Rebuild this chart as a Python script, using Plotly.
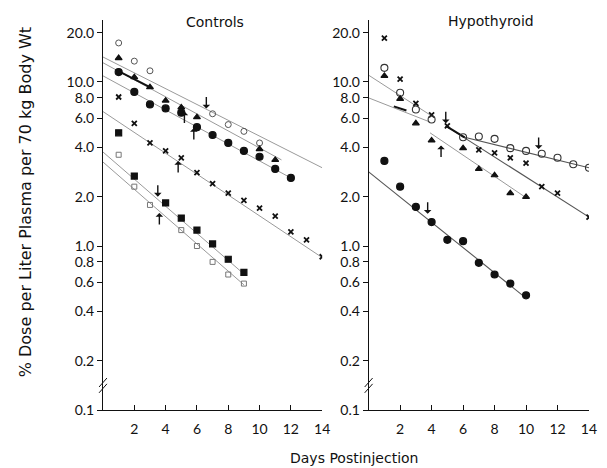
import math
import plotly.graph_objects as go

# ---------------- data ----------------
# Controls panel
c_oc_days = [1, 2, 3, 7, 8, 9, 10]
c_oc_vals = [17.3, 13.4, 11.7, 6.4, 5.5, 5.0, 4.25]
c_tri_days = [1, 2, 3, 4, 5, 6, 10, 11]
c_tri_vals = [14.0, 10.7, 9.3, 7.7, 7.0, 6.1, 3.9, 3.35]
c_fc_days = [1, 2, 3, 4, 5, 6, 7, 8, 9, 10, 11, 12]
c_fc_vals = [11.5, 8.7, 7.3, 6.9, 6.5, 5.3, 4.75, 4.25, 3.8, 3.5, 2.95, 2.6]
c_x_days = [1, 2, 3, 4, 5, 6, 7, 8, 9, 10, 11, 12, 13, 14]
c_x_vals = [8.1, 5.6, 4.25, 3.8, 3.45, 2.8, 2.4, 2.1, 1.9, 1.7, 1.52, 1.22, 1.09, 0.86]
c_fs_days = [1, 2, 4, 5, 6, 7, 8, 9]
c_fs_vals = [4.9, 2.67, 1.83, 1.48, 1.25, 1.03, 0.83, 0.69]
c_os_days = [1, 2, 3, 5, 6, 7, 8, 9]
c_os_vals = [3.6, 2.3, 1.78, 1.25, 1.0, 0.80, 0.67, 0.59]

# Controls regression lines (start/end)
c_fit_days = [[0, 14], [0, 11.4], [0, 12], [0, 14], [0, 9], [0, 9]]
c_fit_vals = [[14.2, 3.0], [13.1, 3.35], [10.9, 2.6], [6.6, 0.85], [3.74, 0.675], [3.25, 0.58]]
c_bold_days = [[0.8, 2.9]]
c_bold_vals = [[11.9, 9.4]]

# Hypothyroid panel
h_x_days = [1, 2, 3, 4, 5, 7, 8, 9, 10, 11, 12, 14]
h_x_vals = [18.5, 10.4, 7.4, 6.3, 5.4, 3.85, 3.7, 3.45, 3.2, 2.3, 2.1, 1.5]
h_oc_days = [1, 2, 3, 4, 6, 7, 8, 9, 10, 11, 12, 13, 14]
h_oc_vals = [12.2, 8.6, 6.8, 5.9, 4.6, 4.65, 4.5, 3.95, 3.8, 3.65, 3.45, 3.15, 3.0]
h_tri_days = [1, 2, 3, 4, 6, 7, 8, 9, 10]
h_tri_vals = [10.9, 7.9, 5.6, 4.4, 3.95, 2.95, 2.7, 2.1, 1.99]
h_fc_days = [1, 2, 3, 4, 5, 6, 7, 8, 9, 10]
h_fc_vals = [3.3, 2.3, 1.73, 1.40, 1.09, 1.07, 0.79, 0.67, 0.59, 0.50]

h_fit_days = [[0, 3.9], [0, 3.9], [4.9, 14], [5.9, 14], [3.9, 9.9], [0, 9.9]]
h_fit_vals = [[11.0, 6.3], [8.0, 5.7], [5.4, 1.5], [4.65, 3.0], [4.9, 2.0], [2.83, 0.49]]
h_fit_dark = [False, False, True, True, False, True]
h_bold_days = [[4.9, 6.1], [1.6, 2.4]]
h_bold_vals = [[5.4, 4.6], [7.1, 6.7]]

# arrows (tip position, direction)
c_arrow_days = [6.6, 5.2, 5.8, 4.8, 3.5, 3.6]
c_arrow_vals = [6.9, 6.6, 5.25, 3.3, 2.0, 1.59]
c_arrow_dirs = ["down", "up", "up", "up", "down", "up"]
h_arrow_days = [4.9, 4.6, 10.8, 3.75]
h_arrow_vals = [5.6, 4.1, 3.9, 1.57]
h_arrow_dirs = ["down", "up", "down", "down"]

# axes
y_tick_vals = [20, 10, 8, 6, 4, 2, 1, 0.8, 0.6, 0.4, 0.2, 0.1]
y_tick_text = ["20.0", "10.0", "8.0", "6.0", "4.0", "2.0", "1.0", "0.8", "0.6", "0.4", "0.2", "0.1"]
x_tick_vals = [2, 4, 6, 8, 10, 12, 14]
x_tick_text = ["2", "4", "6", "8", "10", "12", "14"]

FONT = "Lato"
TFONT = "DejaVu Sans"
BLACK = "#111111"
LINE_LIGHT = "#9a9a9a"
LINE_DARK = "#555555"

fig = go.Figure()


def add_line(xs, ys, xa, ya, color, width):
    fig.add_trace(go.Scatter(x=xs, y=ys, mode="lines", xaxis=xa, yaxis=ya,
                             line=dict(color=color, width=width),
                             hoverinfo="skip", showlegend=False))


def add_pts(xs, ys, xa, ya, symbol, size, color=BLACK, lw=1.2):
    fig.add_trace(go.Scatter(x=xs, y=ys, mode="markers", xaxis=xa, yaxis=ya,
                             marker=dict(symbol=symbol, size=size, color=color,
                                         line=dict(color=color, width=lw)),
                             showlegend=False))


# Controls lines
for d, v in zip(c_fit_days, c_fit_vals):
    add_line(d, v, "x", "y", LINE_LIGHT, 1)
for d, v in zip(c_bold_days, c_bold_vals):
    add_line(d, v, "x", "y", BLACK, 2)

# Hypothyroid lines
for d, v, dk in zip(h_fit_days, h_fit_vals, h_fit_dark):
    add_line(d, v, "x2", "y2", LINE_DARK if dk else LINE_LIGHT, 1.1 if dk else 1)
for d, v in zip(h_bold_days, h_bold_vals):
    add_line(d, v, "x2", "y2", BLACK, 2)

# Controls markers
add_pts(c_oc_days, c_oc_vals, "x", "y", "circle-open", 6, "#555555", 1)
add_pts(c_tri_days, c_tri_vals, "x", "y", "triangle-up", 6)
add_pts(c_fc_days, c_fc_vals, "x", "y", "circle", 7)
add_pts(c_x_days, c_x_vals, "x", "y", "x-thin-open", 5, BLACK, 1.8)
add_pts(c_fs_days, c_fs_vals, "x", "y", "square", 6)
add_pts(c_os_days, c_os_vals, "x", "y", "square-open", 5, "#777777", 1)

# Hypothyroid markers
add_pts(h_x_days, h_x_vals, "x2", "y2", "x-thin-open", 5, BLACK, 1.8)
add_pts(h_oc_days, h_oc_vals, "x2", "y2", "circle-open", 7, "#333333", 1.1)
add_pts(h_tri_days, h_tri_vals, "x2", "y2", "triangle-up", 6)
add_pts(h_fc_days, h_fc_vals, "x2", "y2", "circle", 7)

annotations = []
for days, vals, dirs, xr, yr in [(c_arrow_days, c_arrow_vals, c_arrow_dirs, "x", "y"),
                                 (h_arrow_days, h_arrow_vals, h_arrow_dirs, "x2", "y2")]:
    for d, v, dr in zip(days, vals, dirs):
        annotations.append(dict(x=d, y=math.log10(v), xref=xr, yref=yr, text="",
                                showarrow=True, arrowhead=1, arrowsize=0.9,
                                arrowwidth=1.4, arrowcolor=BLACK,
                                ax=0, ay=(-13 if dr == "down" else 13)))

# plot area (page coords): top = 20px, bottom = 410px, left = 103px, width = 494px
txt = dict(showarrow=False, xanchor="center", yanchor="middle")
annotations += [
    dict(text="Controls", x=0.51, y=(410 - 22) / 390, xref="x domain", yref="paper",
         font=dict(family=TFONT, size=14, color=BLACK), **txt),
    dict(text="Hypothyroid", x=0.555, y=(410 - 21) / 390, xref="x2 domain", yref="paper",
         font=dict(family=TFONT, size=14, color=BLACK), **txt),
    dict(text="Days Postinjection", x=(358 - 103) / 494, y=(410 - 458) / 390,
         xref="paper", yref="paper",
         font=dict(family=TFONT, size=14, color=BLACK), **txt),
    dict(text="% Dose per Liter Plasma per 70 kg Body Wt", x=(24 - 103) / 494,
         y=(410 - 202) / 390, xref="paper", yref="paper", textangle=-90,
         font=dict(family=TFONT, size=16, color=BLACK), **txt),
]

shapes = []
for xr, yr in [("x domain", "y domain"), ("x2 domain", "y2 domain")]:
    # axis break marks
    shapes.append(dict(type="line", xref=xr, yref=yr, x0=-0.018, x1=0.018,
                       y0=0.059, y1=0.082, line=dict(color=BLACK, width=1)))
    shapes.append(dict(type="line", xref=xr, yref=yr, x0=-0.018, x1=0.018,
                       y0=0.044, y1=0.067, line=dict(color=BLACK, width=1)))

yaxis_common = dict(type="log", range=[-1, 1.378], tickmode="array",
                    tickvals=y_tick_vals, ticktext=y_tick_text, ticks="outside",
                    ticklen=5, tickcolor=BLACK, showline=True, linecolor=BLACK,
                    linewidth=1, showgrid=False, zeroline=False,
                    tickfont=dict(family=FONT, size=14, color=BLACK))
xaxis_common = dict(range=[0, 14], tickmode="array", tickvals=x_tick_vals,
                    ticktext=x_tick_text, ticks="inside", ticklen=5, tickcolor=BLACK,
                    showline=True, linecolor=BLACK, linewidth=1, showgrid=False,
                    zeroline=False, ticklabeloverflow="allow", ticklabelstandoff=6,
                    tickfont=dict(family=FONT, size=14, color=BLACK))

# the page body adds an 8px offset, so the figure is sized/margined to compensate
fig.update_layout(
    width=599, height=460,
    margin=dict(l=95, r=10, t=12, b=58),
    paper_bgcolor="white", plot_bgcolor="white",
    xaxis=dict(domain=[0, 0.451], anchor="y", **xaxis_common),
    xaxis2=dict(domain=[0.5466, 1.0], anchor="y2", **xaxis_common),
    yaxis=dict(anchor="x", **yaxis_common),
    yaxis2=dict(anchor="x2", **yaxis_common),
    annotations=annotations,
    shapes=shapes,
    showlegend=False,
)

fig.write_html("out.html")
